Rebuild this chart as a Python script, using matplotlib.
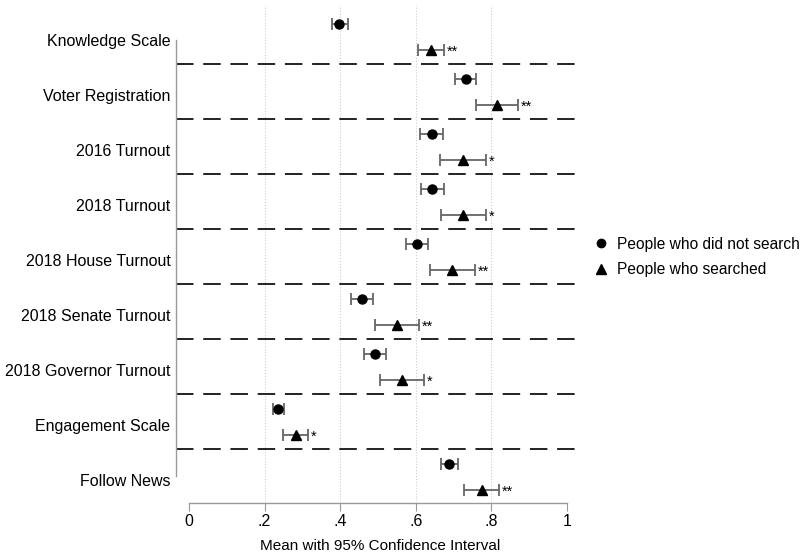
import matplotlib.pyplot as plt
from matplotlib.lines import Line2D
import numpy as np

plt.rcParams['font.family'] = ['Liberation Sans', 'DejaVu Sans']

labels = ["Knowledge Scale", "Voter Registration", "2016 Turnout", "2018 Turnout",
          "2018 House Turnout", "2018 Senate Turnout", "2018 Governor Turnout",
          "Engagement Scale", "Follow News"]

# people who did not search
ns_mean = [0.398, 0.732, 0.642, 0.644, 0.603, 0.457, 0.492, 0.235, 0.689]
ns_lo = [0.378, 0.703, 0.611, 0.614, 0.573, 0.429, 0.463, 0.221, 0.666]
ns_hi = [0.421, 0.760, 0.671, 0.674, 0.633, 0.486, 0.521, 0.250, 0.711]

# people who searched
s_mean = [0.641, 0.815, 0.725, 0.726, 0.697, 0.549, 0.563, 0.282, 0.774]
s_lo = [0.607, 0.758, 0.664, 0.667, 0.638, 0.492, 0.505, 0.248, 0.728]
s_hi = [0.675, 0.870, 0.786, 0.786, 0.757, 0.608, 0.622, 0.315, 0.819]

stars = ["**", "**", "*", "*", "**", "**", "*", "*", "**"]

W, H = 806, 556
fig = plt.figure(figsize=(W / 100, H / 100), dpi=100)
ax = fig.add_axes([176 / W, 1 - 503 / H, (584 - 176) / W, (503 - 5) / H])

pos = np.arange(len(labels))
y_ns = pos
y_s = pos + 0.48
y_lab = pos + 0.29

ns_mean = np.array(ns_mean); s_mean = np.array(s_mean)
ax.errorbar(ns_mean, y_ns, xerr=[ns_mean - ns_lo, np.array(ns_hi) - ns_mean],
            fmt='o', color='black', ms=6.5, ecolor='#666666', elinewidth=1.3,
            capsize=4, capthick=1.3, zorder=3)
ax.errorbar(s_mean, y_s, xerr=[s_mean - s_lo, np.array(s_hi) - s_mean],
            fmt='^', color='black', ms=7, ecolor='#666666', elinewidth=1.3,
            capsize=4, capthick=1.3, zorder=3)

for i in range(len(labels)):
    ax.text(s_hi[i] + 0.008, y_s[i] + 0.03, stars[i], va='center', ha='left',
            fontsize=10.5)

for i in range(len(labels) - 1):
    ax.axhline(pos[i] + 0.73, color='#222222', lw=1.4, ls=(0, (9, 5)), zorder=1)

for g in [0.2, 0.4, 0.6, 0.8]:
    ax.axvline(g, color='#cccccc', lw=0.8, ls=':', zorder=0)

ax.set_xlim(-13 / 378, 395 / 378)
ax.set_ylim((503 - 24) / 55, (5 - 24) / 55)

ax.set_xticks([0, 0.2, 0.4, 0.6, 0.8, 1])
ax.set_xticklabels(["0", ".2", ".4", ".6", ".8", "1"], fontsize=11.5)
ax.set_yticks(y_lab)
ax.set_yticklabels(labels, fontsize=11.5)
ax.tick_params(axis='y', length=0, pad=4)
ax.tick_params(axis='x', length=6, color='#999999', pad=2)
ax.set_xlabel("Mean with 95% Confidence Interval", fontsize=11, labelpad=7)

for s in ['top', 'right']:
    ax.spines[s].set_visible(False)
ax.spines['left'].set_bounds(y_lab[0], y_lab[-1] - 0.07)
ax.spines['bottom'].set_bounds(0, 1)
for s in ['left', 'bottom']:
    ax.spines[s].set_color('#999999')
    ax.spines[s].set_linewidth(1)

handles = [Line2D([], [], marker='o', color='black', ls='none', ms=6),
           Line2D([], [], marker='^', color='black', ls='none', ms=6.5)]
fig.legend(handles, ['People who did not search', 'People who searched'],
           loc='center left', bbox_to_anchor=(578 / W, 1 - 257 / H), frameon=False,
           fontsize=11.2, handletextpad=0.4, handlelength=1.2, labelspacing=0.7)

fig.savefig("out.png", dpi=100)
